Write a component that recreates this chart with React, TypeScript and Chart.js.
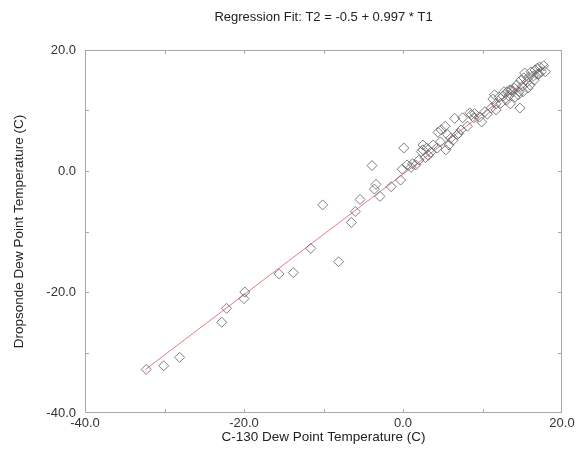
import React, { useEffect, useRef } from "react";
import { Chart, registerables } from "chart.js";

Chart.register(...registerables);

// C-130 dew point (x) and dropsonde dew point (y), degrees C
const c130Dew = [
  -32.3, -30.1, -28.1, -22.8, -22.2, -20.0, -19.9, -15.6, -13.8, -11.6,
  -10.1, -8.1, -6.5, -6.0, -5.4, -3.9, -3.4, -3.6, -2.9, -1.5,
  -0.3, -0.1, 0.5, 1.2, 0.1, 1.6, 2.0, 2.5, 3.0, 3.5,
  3.8, 4.3, 4.7, 4.8, 5.3, 4.4, 5.8, 5.4, 6.3, 6.8,
  7.3, 7.5, 8.4, 8.9, 8.1, 9.6, 9.9, 10.6, 10.3, 11.1,
  11.3, 11.7, 11.7, 12.3, 12.6, 13.0, 13.3, 13.5, 13.8, 14.0,
  14.3, 14.7, 14.6, 14.8, 15.0, 15.2, 15.3, 15.6, 15.8, 16.1,
  16.4, 16.6, 16.9, 17.1, 17.4, 17.7, 17.9, 14.5, 14.1, 13.6,
  13.1, 12.1, 15.7, 15.1, 16.0, 16.5, 2.3, 2.5, 1.0, 2.8,
  3.2, 5.6, 6.0, 7.0, 9.0, 12.7, 13.4, 11.5, 16.9, 17.2,
  6.5, 8.6,
];
const dropsondeDew = [
  -32.8, -32.2, -30.8, -25.0, -22.7, -21.1, -20.0, -17.0, -16.8, -12.8,
  -5.6, -15.0, -8.5, -6.7, -4.7, 0.9, -2.2, -3.0, -4.2, -2.6,
  -1.5, 0.3, 1.0, 1.2, 3.8, 1.0, 1.8, 3.5, 3.8, 3.1,
  4.3, 3.8, 4.8, 6.8, 7.4, 6.4, 4.3, 3.5, 5.1, 6.0,
  6.8, 8.8, 9.6, 8.8, 7.4, 8.9, 8.1, 9.4, 9.8, 10.4,
  11.9, 11.1, 10.1, 11.2, 12.4, 11.7, 12.4, 11.1, 13.1, 13.7,
  14.2, 10.4, 13.1, 15.0, 14.0, 15.4, 16.2, 14.7, 15.5, 16.4,
  15.7, 16.7, 17.0, 16.0, 16.4, 17.4, 16.4, 12.6, 12.2, 13.4,
  13.1, 12.2, 13.7, 13.1, 14.2, 15.0, 3.2, 4.3, 0.6, 2.2,
  2.6, 6.0, 5.4, 6.2, 9.5, 13.1, 13.4, 12.6, 16.0, 17.2,
  8.7, 9.3,
];

// Regression fit line end points (T2 = -0.5 + 0.997 * T1)
const fitX = [-32.4, 18.2];
const fitY = [-32.8, 17.6];

const titleText = "Regression Fit: T2 = -0.5 + 0.997 * T1";
const xTitle = "C-130 Dew Point Temperature (C)";
const yTitle = "Dropsonde Dew Point Temperature (C)";
const axisMin = -40;
const axisMax = 20;
const labelStep = 20;
const tickStep = 10;

const FONT = "'Liberation Sans', Arial, Helvetica, sans-serif";

const framePlugin = {
  id: "frameTicks",
  afterDatasetsDraw(chart: any) {
    const { ctx, chartArea: a, scales } = chart;
    const x = scales.x;
    const y = scales.y;
    ctx.save();
    ctx.strokeStyle = "#a9a9a9";
    ctx.lineWidth = 1;
    ctx.strokeRect(a.left + 0.5, a.top + 0.5, a.right - a.left - 1, a.bottom - a.top - 1);
    const len = 4;
    ctx.beginPath();
    for (let v = axisMin + tickStep; v < axisMax; v += tickStep) {
      const px = Math.round(x.getPixelForValue(v)) + 0.5;
      ctx.moveTo(px, a.bottom);
      ctx.lineTo(px, a.bottom - len);
      ctx.moveTo(px, a.top);
      ctx.lineTo(px, a.top + len);
      const py = Math.round(y.getPixelForValue(v)) + 0.5;
      ctx.moveTo(a.left, py);
      ctx.lineTo(a.left + len, py);
      ctx.moveTo(a.right, py);
      ctx.lineTo(a.right - len, py);
    }
    ctx.stroke();
    ctx.restore();
  },
};

export default function App() {
  const canvasRef = useRef<HTMLCanvasElement | null>(null);

  useEffect(() => {
    if (!canvasRef.current) return;
    const points = c130Dew.map((v, i) => ({ x: v, y: dropsondeDew[i] }));
    const fit = fitX.map((v, i) => ({ x: v, y: fitY[i] }));
    const chart = new Chart(canvasRef.current, {
      type: "scatter",
      data: {
        datasets: [
          {
            type: "line",
            label: "fit",
            data: fit,
            borderColor: "rgba(226,100,110,0.85)",
            borderWidth: 1,
            pointRadius: 0,
            fill: false,
            order: 2,
          } as any,
          {
            label: "obs",
            data: points,
            pointStyle: "rectRot",
            pointRadius: 5,
            pointHoverRadius: 5,
            borderColor: "rgba(105,105,105,0.85)",
            backgroundColor: "rgba(0,0,0,0)",
            borderWidth: 1,
            order: 1,
          },
        ],
      },
      options: {
        animation: false,
        responsive: true,
        maintainAspectRatio: false,
        layout: { padding: { left: 0, right: 19, top: 0, bottom: 0 } },
        plugins: {
          legend: { display: false },
          tooltip: { enabled: false },
          title: {
            display: true,
            text: titleText,
            fullSize: false,
            color: "#222",
            font: { family: FONT, size: 13, weight: "normal" },
            padding: { top: 9.5, bottom: 24.9 },
          },
        },
        scales: {
          x: {
            type: "linear",
            min: axisMin,
            max: axisMax,
            grid: { display: false, drawTicks: false },
            border: { display: false },
            ticks: {
              stepSize: labelStep,
              color: "#333",
              font: { family: FONT, size: 13 },
              padding: 3,
              maxRotation: 0,
              callback: (v: any) => Number(v).toFixed(1),
            },
            title: {
              display: true,
              text: xTitle,
              color: "#222",
              font: { family: FONT, size: 13.5 },
              padding: { top: 0, bottom: 9.5 },
            },
            afterFit: (s: any) => {
              s.height = 42;
            },
          },
          y: {
            type: "linear",
            min: axisMin,
            max: axisMax,
            grid: { display: false, drawTicks: false },
            border: { display: false },
            ticks: {
              stepSize: labelStep,
              color: "#333",
              font: { family: FONT, size: 13 },
              padding: 9,
              callback: (v: any) => Number(v).toFixed(1),
            },
            title: {
              display: true,
              text: yTitle,
              color: "#222",
              font: { family: FONT, size: 13.5 },
              padding: { top: 11, bottom: 0 },
            },
            afterFit: (s: any) => {
              s.width = 85;
            },
          },
        },
      },
      plugins: [framePlugin],
    });
    return () => chart.destroy();
  }, []);

  return (
    <div style={{ position: "absolute", left: 0, top: 0, width: 581, height: 455, background: "#fff" }}>
      <canvas ref={canvasRef} />
    </div>
  );
}
